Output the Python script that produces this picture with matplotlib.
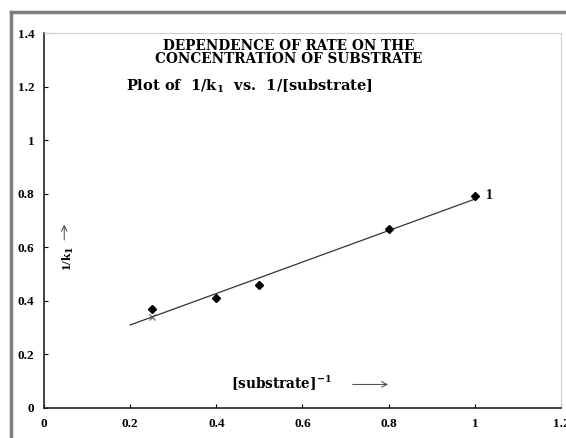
"""
Lineweaver-Burk style plot: 1/k1 against 1/[substrate].
"""
import matplotlib.pyplot as plt
from matplotlib.lines import Line2D

# measured points
inv_substrate = [0.25, 0.4, 0.5, 0.8, 1.0]
inv_k1 = [0.37, 0.41, 0.46, 0.67, 0.79]

# least-squares line as drawn on the original
fit_x = [0.2, 1.0]
fit_y = [0.31, 0.78]

xticks = [0, 0.2, 0.4, 0.6, 0.8, 1.0, 1.2]
xtick_labels = ["0", "0.2", "0.4", "0.6", "0.8", "1", "1.2"]
yticks = [0, 0.2, 0.4, 0.6, 0.8, 1.0, 1.2, 1.4]
ytick_labels = ["0", "0.2", "0.4", "0.6", "0.8", "1", "1.2", "1.4"]

plt.rcParams["font.family"] = ["Liberation Serif", "DejaVu Serif"]
plt.rcParams["font.weight"] = "bold"
plt.rcParams["mathtext.fontset"] = "dejavuserif"

wide = dict(family="DejaVu Serif", fontweight="bold")

fig = plt.figure(figsize=(5.66, 4.38), dpi=100)
ax = fig.add_axes([0.0777, 0.0685, 0.9135, 0.856])

ax.plot(fit_x, fit_y, color="#333333", linewidth=0.9)
ax.plot(inv_substrate, inv_k1, linestyle="none", marker="D", markersize=4.5,
        color="black")
ax.plot([0.25], [0.34], linestyle="none", marker="x", markersize=4,
        color="#555555", markeredgewidth=0.8)
ax.text(1.025, 0.795, "1", fontsize=10, fontweight="bold", va="center")

ax.set_xlim(0, 1.2)
ax.set_ylim(0, 1.4)
ax.set_xticks(xticks)
ax.set_xticklabels(xtick_labels)
ax.set_yticks(yticks)
ax.set_yticklabels(ytick_labels)
ax.tick_params(direction="in", length=3, width=0.8, labelsize=9.5, pad=7)

for side in ("left", "bottom"):
    ax.spines[side].set_color("#222222")
    ax.spines[side].set_linewidth(1.2)
for side in ("top", "right"):
    ax.spines[side].set_color("#cccccc")
    ax.spines[side].set_linewidth(0.8)

# titles inside the plot area
ax.text(0.567, 1.353, "DEPENDENCE OF RATE ON THE", ha="center", va="center",
        fontsize=9.8, **wide)
ax.text(0.567, 1.302, "CONCENTRATION OF SUBSTRATE", ha="center", va="center",
        fontsize=9.8, **wide)
ax.text(0.19, 1.2, "Plot of  1/k$_\\mathbf{1}$  vs.  1/[substrate]", ha="left",
        va="center", fontsize=10.5, **wide)

# axis labels with arrows
ax.text(0.55, 0.092, "[substrate]$^{\\mathbf{-1}}$", ha="center", va="center",
        fontsize=9.8, **wide)
ax.annotate("", xy=(0.805, 0.088), xytext=(0.71, 0.088),
            arrowprops=dict(arrowstyle="->", color="#444444", lw=0.7))
ax.text(0.057, 0.56, "1/k$_\\mathbf{1}$", ha="center", va="center",
        rotation=90, fontsize=9.5, fontweight="bold")
ax.annotate("", xy=(0.047, 0.695), xytext=(0.047, 0.617),
            arrowprops=dict(arrowstyle="->", color="#444444", lw=0.7))

# grey frame around the figure (cropped at right and bottom)
frame_kw = dict(color="#808080", linewidth=2.5, transform=fig.transFigure)
fig.add_artist(Line2D([0.019, 0.019], [0, 0.972], **frame_kw))
fig.add_artist(Line2D([0.019, 1.0], [0.972, 0.972], **frame_kw))

fig.savefig("out.png", dpi=100)
plt.close(fig)
